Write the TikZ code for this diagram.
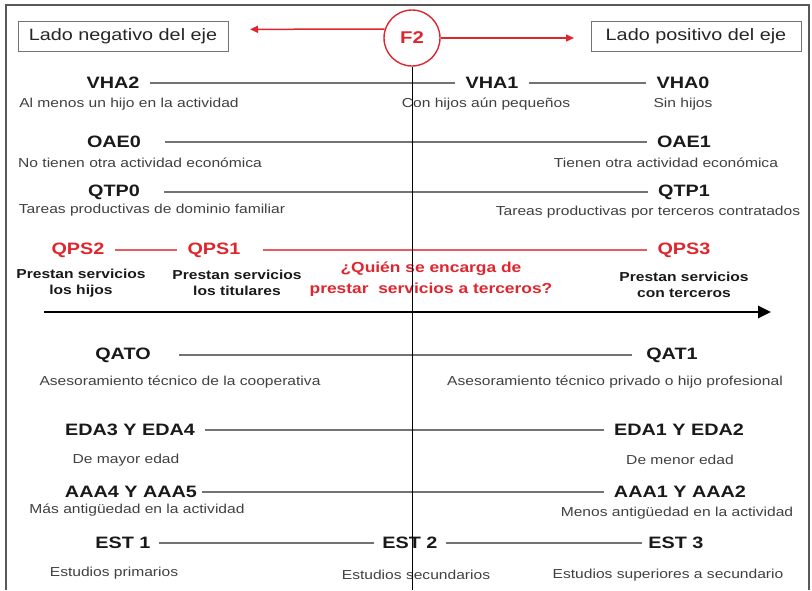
\documentclass[tikz,border=0pt]{standalone}
\usepackage{fontspec}
\setmainfont{Liberation Sans}[FakeStretch=1.2]
\usetikzlibrary{arrows.meta}
\definecolor{fred}{RGB}{222,38,46}
\tikzset{
  frame/.style={draw=black!65, line width=1.6pt},
  sidebox/.style={draw=black!55, line width=1pt, minimum width=210pt, minimum height=30pt, inner sep=0pt, font=\fontsize{16.5}{18}\selectfont, text=black!85},
  factor/.style={circle, draw=fred, line width=1.4pt, minimum size=56pt, inner sep=0pt, text=fred, font=\bfseries\fontsize{17}{19}\selectfont},
  lbl/.style={inner sep=0pt, font=\bfseries\fontsize{16.5}{18}\selectfont, text=black!90},
  redlbl/.style={lbl, text=fred},
  desc/.style={inner sep=0pt, font=\fontsize{13}{15}\selectfont, text=black!75},
  prest/.style={inner sep=0pt, align=center, font=\bfseries\fontsize{13}{16}\selectfont, text=black!90},
  quest/.style={inner sep=0pt, align=center, font=\bfseries\fontsize{14.5}{20.5}\selectfont, text=fred},
  link/.style={draw=black!55, line width=1.8pt, shorten <=10pt, shorten >=10pt},
  redlink/.style={link, draw=fred!75},
  redarrow/.style={draw=fred, line width=1.5pt, -{Triangle[length=8pt,width=7pt]}},
  axis/.style={draw=black, line width=2.6pt, -{Triangle[length=13pt,width=12pt]}},
  divide/.style={draw=black, line width=0.9pt},
}
\begin{document}
\begin{tikzpicture}[x=1pt,y=-1pt]
\useasboundingbox (0,0) rectangle (812,590);
\draw [frame] (6,590) -- (6,5) -- (809,5) -- (809,590);
%
\node [sidebox] (neg) at (123,36) {Lado negativo del eje};
\node [sidebox] (pos) at (696,36) {Lado positivo del eje};
\node [factor] (f2) at (412,38) {F2};
\coordinate (negtip) at (250,29.3);
\coordinate (postip) at (574,38);
\coordinate (axbot) at (412,590);
\coordinate (axl) at (44,312);
\coordinate (axr) at (771,312);
%
\node [lbl] (vha2) at (113,83) {VHA2};
\node [lbl] (vha1) at (492,83) {VHA1};
\node [lbl] (vha0) at (683,83) {VHA0};
\node [desc] (d-vha2) at (129,104) {Al menos un hijo en la actividad};
\node [desc] (d-vha1) at (486,104) {Con hijos aún pequeños};
\node [desc] (d-vha0) at (683,104) {Sin hijos};
%
\node [lbl] (oae0) at (114,142) {OAE0};
\node [lbl] (oae1) at (684,142) {OAE1};
\node [desc] (d-oae0) at (140,163) {No tienen otra actividad económica};
\node [desc] (d-oae1) at (666,163) {Tienen otra actividad económica};
%
\node [lbl] (qtp0) at (114,192) {QTP0};
\node [lbl] (qtp1) at (684,192) {QTP1};
\node [desc] (d-qtp0) at (152,210) {Tareas productivas de dominio familiar};
\node [desc] (d-qtp1) at (648,212) {Tareas productivas por terceros contratados};
%
\node [redlbl] (qps2) at (78,250) {QPS2};
\node [redlbl] (qps1) at (214,250) {QPS1};
\node [redlbl] (qps3) at (684,250) {QPS3};
\node [prest] (d-qps2) at (81,283) {Prestan servicios\\los hijos};
\node [prest] (d-qps1) at (237,283) {Prestan servicios\\los titulares};
\node [prest] (d-qps3) at (684,285) {Prestan servicios\\con terceros};
\node [quest] (quien) at (431,279) {¿Quién se encarga de\\prestar\ \ servicios a terceros?};
%
\node [lbl] (qat0) at (123,355) {QATO};
\node [lbl] (qat1) at (672,355) {QAT1};
\node [desc] (d-qat0) at (180,382) {Asesoramiento técnico de la cooperativa};
\node [desc] (d-qat1) at (615,382) {Asesoramiento técnico privado o hijo profesional};
%
\node [lbl] (eda34) at (130,430) {EDA3 Y EDA4};
\node [lbl] (eda12) at (679,430) {EDA1 Y EDA2};
\node [desc] (d-eda34) at (126,460) {De mayor edad};
\node [desc] (d-eda12) at (680,460) {De menor edad};
%
\node [lbl] (aaa45) at (131,492) {AAA4 Y AAA5};
\node [lbl] (aaa12) at (680,492) {AAA1 Y AAA2};
\node [desc] (d-aaa45) at (137,510) {Más antigüedad en la actividad};
\node [desc] (d-aaa12) at (677,513) {Menos antigüedad en la actividad};
%
\node [lbl] (est1) at (123,543) {EST 1};
\node [lbl] (est2) at (410,543) {EST 2};
\node [lbl] (est3) at (676,543) {EST 3};
\node [desc] (d-est1) at (114,573) {Estudios primarios};
\node [desc] (d-est2) at (416,575) {Estudios secundarios};
\node [desc] (d-est3) at (668,575) {Estudios superiores a secundario};
%
\draw [redarrow] (f2.162) -- (negtip);
\draw [redarrow] (f2.east) -- (postip);
\draw [link] (vha2) -- (vha1);
\draw [link] (vha1) -- (vha0);
\draw [link, shorten <=24pt] (oae0) -- (oae1);
\draw [link, shorten <=24pt] (qtp0) -- (qtp1);
\draw [redlink] (qps2) -- (qps1);
\draw [redlink, shorten <=22pt] (qps1) -- (qps3);
\draw [axis] (axl) -- (axr);
\draw [link, shorten <=28pt, shorten >=14pt] (qat0) -- (qat1);
\draw [link] (eda34) -- (eda12);
\draw [link, shorten <=5pt] (aaa45) -- (aaa12);
\draw [link, shorten <=8pt, shorten >=8pt] (est1) -- (est2);
\draw [link, shorten <=8pt, shorten >=6pt] (est2) -- (est3);
\draw [divide] (f2.south) -- (axbot);
\end{tikzpicture}
\end{document}
